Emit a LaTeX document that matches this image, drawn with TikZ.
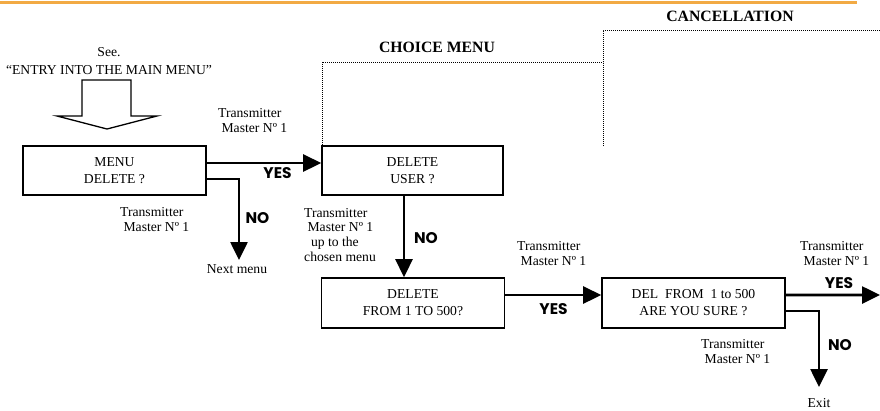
\documentclass[tikz,border=0pt]{standalone}
\usepackage{fontspec}
\setmainfont{Liberation Serif}
\newfontfamily\repfont{Poppins}
\usetikzlibrary{arrows.meta}
\definecolor{bandeau}{RGB}{242,170,68}

\begin{document}
\begin{tikzpicture}[x=1bp,y=-1bp,
    menubox/.style={draw,line width=1.6bp,minimum width=183bp,minimum height=49bp,
                    align=center,inner sep=0pt,font=\fontsize{13.7}{17}\selectfont},
    lien/.style={line width=2.6bp},
    fleche/.style={lien,-{Triangle[length=18bp,width=17bp]}},
    tx/.style={align=left,inner sep=0pt,font=\fontsize{13.7}{15}\selectfont},
    rep/.style={inner sep=0pt,font=\repfont\bfseries\fontsize{15.5}{15.5}\selectfont},
    titre/.style={inner sep=0pt,font=\bfseries\fontsize{15.8}{16}\selectfont},
    pointille/.style={line width=0.8bp,dash pattern=on 0.8bp off 1.2bp}]
\useasboundingbox (0,0) rectangle (880,410);
\draw[bandeau,line width=3bp] (0,2)--(857,2);
% titres et zones
\node[titre] (annul) at (730,16) {CANCELLATION};
\node[titre] (choix) at (437,47) {CHOICE MENU};
\draw[pointille] (322,145) |- (603,62);
\draw[pointille] (603,146) |- (880,30);
% entree
\node[tx,align=center,font=\fontsize{13.7}{18}\selectfont] (voir) at (109,61) {See.\\``ENTRY INTO THE MAIN MENU''};
\draw[line width=1.3bp] (82,80)--(131,80)--(131,116)--(157,116)--(107,129)--(57,116)--(82,116)--cycle;
% boites
\node[menubox] (menu) at (114.5,170.5) {MENU\\DELETE ?};
\node[menubox,minimum width=181bp] (user) at (412.5,170.5) {DELETE\\USER ?};
\node[menubox,minimum height=50bp] (range) at (413,303) {DELETE\\FROM 1 TO 500?};
\node[menubox,minimum height=50bp] (sure) at (693.5,303) {DEL~ FROM~ 1 to 500\\ARE YOU SURE ?};
% textes
\foreach \n/\x/\y in {t1/218/120.5, t2/120/219.5, t4/517/253.5, t5/800/254, t6/701/352}
    \node[tx,anchor=west] (\n) at (\x,\y) {Transmitter\\\ Master Nº 1};
\node[tx,anchor=west] (t3) at (304,235) {Transmitter\\\ Master Nº 1\\\ \ up to the\\chosen menu};
\node[tx] (suivant) at (237,269) {Next menu};
\node[tx] (exit) at (819,403) {Exit};
\foreach \n/\t/\x/\y in {o1/YES/277.5/173.5, o2/YES/553.5/309, o3/YES/839/283,
                         n1/NO/257.5/218, n2/NO/426/238, n3/NO/840/345}
    \node[rep] (\n) at (\x,\y) {\t};
% fleches
\coordinate (nxt) at (239,260);
\coordinate (sortie) at (880,295);
\coordinate (fin) at (819,387);
\draw[fleche] ([yshift=7.5bp]menu.east) -- ([yshift=7.5bp]user.west);
\draw[fleche] ([yshift=-8.5bp]menu.east) -| (nxt);
\draw[fleche] ([xshift=-8.5bp]user.south) -- ([xshift=-8.5bp]user.south |- range.north);
\draw[fleche] ([yshift=8bp]range.east) -- ([yshift=8bp]range.east -| sure.west);
\draw[fleche] ([yshift=8bp]sure.east) -- (sortie);
\draw[fleche] ([yshift=-8bp]sure.east) -| (fin);
\end{tikzpicture}
\end{document}
